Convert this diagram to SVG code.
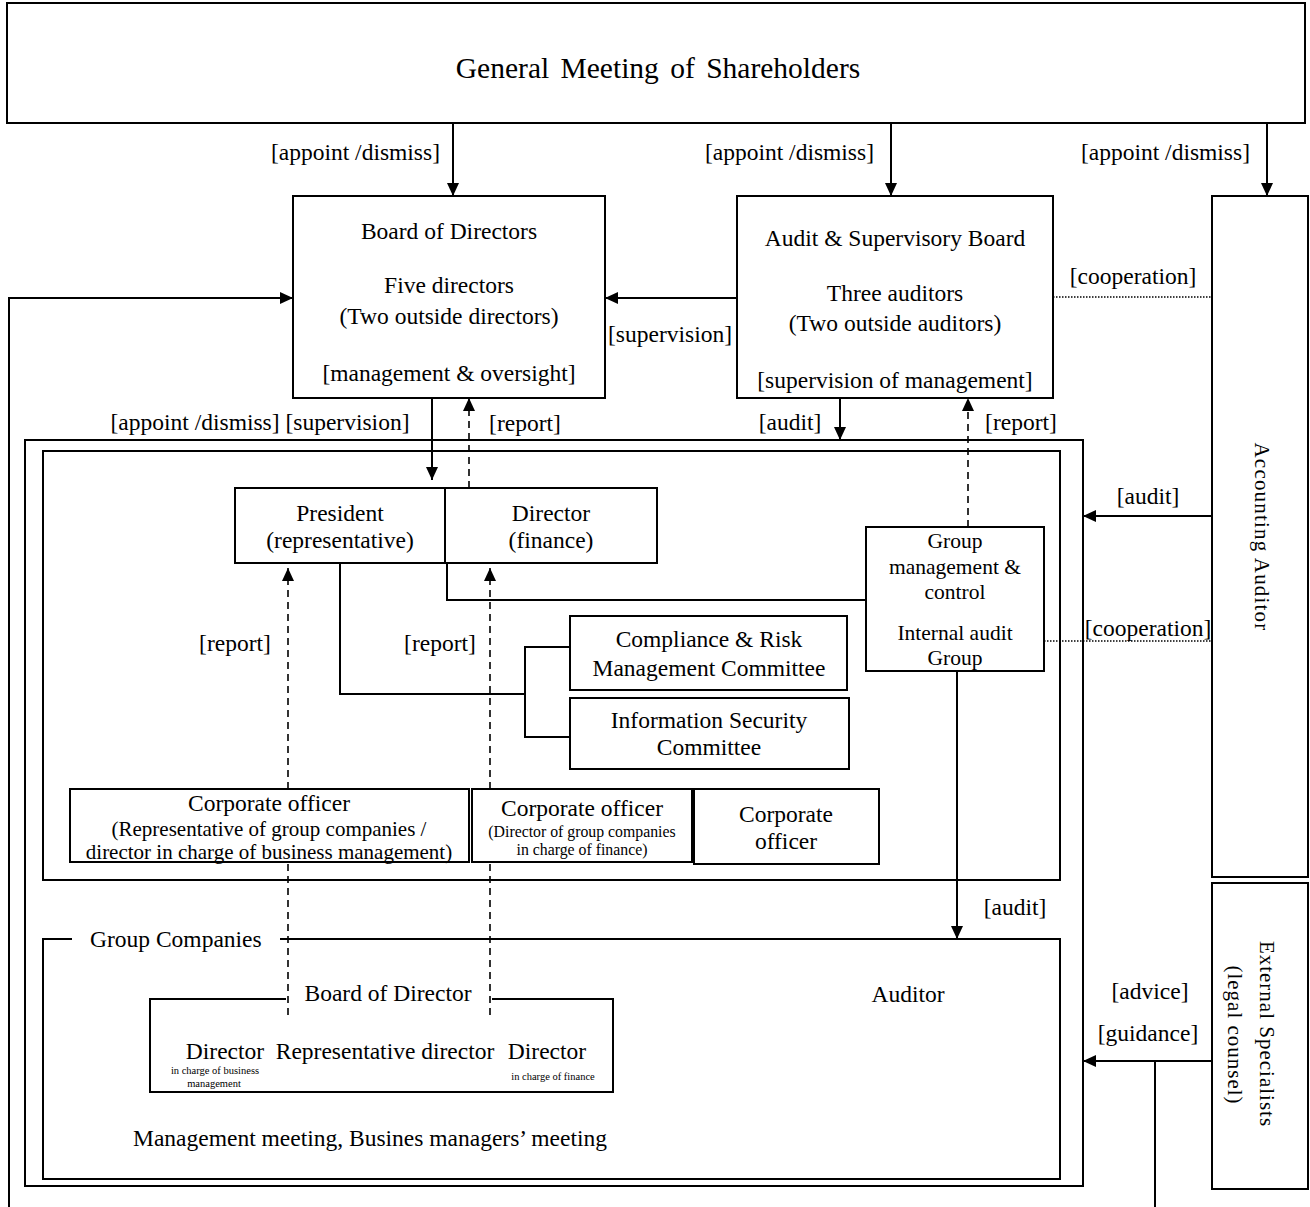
<svg xmlns="http://www.w3.org/2000/svg" width="1310" height="1207" viewBox="0 0 1310 1207">
<style>
text{font-family:"Liberation Serif","Times New Roman",serif;fill:#000;font-size:23.5px}
.c{text-anchor:middle}
.e{text-anchor:end}
.box{fill:#fff;stroke:#000;stroke-width:2}
.ln{fill:none;stroke:#000;stroke-width:2}
.dash{fill:none;stroke:#000;stroke-width:1.6;stroke-dasharray:7,5}
.dot{fill:none;stroke:#000;stroke-width:1.5;stroke-dasharray:1.5,1.5}
.gm{font-size:21.5px}
.s15{font-size:15.8px}
.s10{font-size:10.5px}
</style>
<defs>
<marker id="ah" markerUnits="userSpaceOnUse" markerWidth="14" markerHeight="12" refX="13" refY="6" orient="auto">
<path d="M0,0 L13,6 L0,12 z" fill="#000"/>
</marker>
</defs>
<rect width="1310" height="1207" fill="#fff"/>

<g id="shareholders">
<rect class="box" x="7" y="3" width="1298" height="120"/>
<text class="c" x="658" y="78" style="font-size:29.5px;word-spacing:4px">General Meeting of Shareholders</text>
</g>

<g id="board">
<rect class="box" x="293" y="196" width="312" height="202"/>
<text class="c" x="449" y="239">Board of Directors</text>
<text class="c" x="449" y="293">Five directors</text>
<text class="c" x="449" y="324">(Two outside directors)</text>
<text class="c" x="449" y="381">[management  &amp; oversight]</text>
</g>

<g id="audit-board">
<rect class="box" x="737" y="196" width="316" height="202"/>
<text class="c" x="895" y="246">Audit &amp; Supervisory Board</text>
<text class="c" x="895" y="301">Three auditors</text>
<text class="c" x="895" y="331">(Two outside auditors)</text>
<text class="c" x="895" y="388">[supervision of management]</text>
</g>

<g id="accounting-auditor">
<rect class="box" x="1212" y="196" width="96" height="681"/>
<text class="c" transform="translate(1255,537) rotate(90)" style="font-size:21px;letter-spacing:1.2px">Accounting Auditor</text>
</g>

<g id="external-specialists">
<rect class="box" x="1212" y="883" width="96" height="306"/>
<text class="c" transform="translate(1260,1034) rotate(90)" style="font-size:21px;letter-spacing:1px">External Specialists</text>
<text class="c" transform="translate(1228,1035) rotate(90)" style="font-size:21px;letter-spacing:1px">(legal counsel)</text>
</g>

<g id="company">
<rect class="box" x="25" y="440" width="1058" height="746" fill="none"/>
</g>

<g id="headquarters">
<rect class="box" x="43" y="451" width="1017" height="429"/>
</g>

<g id="president">
<rect class="box" x="235" y="488" width="210" height="75"/>
<text class="c" x="340" y="521">President</text>
<text class="c" x="340" y="548">(representative)</text>
</g>

<g id="director-finance">
<rect class="box" x="445" y="488" width="212" height="75"/>
<text class="c" x="551" y="521">Director</text>
<text class="c" x="551" y="548">(finance)</text>
</g>

<g id="compliance">
<rect class="box" x="570" y="616" width="277" height="74"/>
<text class="c" x="709" y="647">Compliance &amp; Risk</text>
<text class="c" x="709" y="676">Management  Committee</text>
</g>

<g id="infosec">
<rect class="box" x="570" y="698" width="279" height="71"/>
<text class="c" x="709" y="728">Information Security</text>
<text class="c" x="709" y="755">Committee</text>
</g>

<g id="group-management">
<rect class="box" x="866" y="527" width="178" height="144"/>
<text class="c gm" x="955" y="548">Group</text>
<text class="c gm" x="955" y="574">management &amp;</text>
<text class="c gm" x="955" y="599">control</text>
<text class="c gm" x="955" y="640">Internal audit</text>
<text class="c gm" x="955" y="665">Group</text>
</g>

<g id="officer-1">
<rect class="box" x="70" y="789" width="399" height="73"/>
<text class="c" x="269" y="811">Corporate officer</text>
<text class="c" x="269" y="836" style="font-size:21px">(Representative of group companies /</text>
<text class="c" x="269" y="859" style="font-size:21px">director in charge of business management)</text>
</g>

<g id="officer-2">
<rect class="box" x="472" y="789" width="220" height="73"/>
<text class="c" x="582" y="816">Corporate officer</text>
<text class="c s15" x="582" y="837">(Director of group companies</text>
<text class="c s15" x="582" y="855">in charge of finance)</text>
</g>

<g id="officer-3">
<rect class="box" x="694" y="789" width="185" height="75"/>
<text class="c" x="786" y="822">Corporate</text>
<text class="c" x="786" y="849">officer</text>
</g>

<g id="group-companies">
<path class="ln" d="M72,939 H43 V1179 H1060 V939 H280"/>
<text x="90" y="947">Group Companies</text>
<text class="c" x="908" y="1002">Auditor</text>
<text x="133" y="1146">Management meeting, Busines managers’ meeting</text>
</g>

<g id="group-board">
<path class="ln" d="M286,999 H150 V1092 H613 V999 H492"/>
<text class="c" x="388" y="1001">Board of Director</text>
<text class="c" x="225" y="1059">Director</text>
<text class="c" x="385" y="1059">Representative director</text>
<text class="c" x="547" y="1059">Director</text>
<text class="c s10" x="215" y="1074">in charge of business</text>
<text class="c s10" x="214" y="1087">management</text>
<text class="c s10" x="553" y="1080">in charge of finance</text>
</g>

<g id="connectors">
<path class="ln" d="M453,123 V196" marker-end="url(#ah)"/>
<path class="ln" d="M891,123 V196" marker-end="url(#ah)"/>
<path class="ln" d="M1267,123 V196" marker-end="url(#ah)"/>
<path class="ln" d="M9,1207 V298 H293" marker-end="url(#ah)"/>
<path class="ln" d="M737,298 H605" marker-end="url(#ah)"/>
<path class="dot" d="M1053,297 H1212"/>
<path class="ln" d="M432,398 V480" marker-end="url(#ah)"/>
<path class="dash" d="M469,488 V398" marker-end="url(#ah)"/>
<path class="ln" d="M840,398 V440" marker-end="url(#ah)"/>
<path class="dash" d="M968,527 V398" marker-end="url(#ah)"/>
<path class="ln" d="M1212,516 H1083" marker-end="url(#ah)"/>
<path class="dot" d="M1044,641 H1212"/>
<path class="ln" d="M957,671 V939" marker-end="url(#ah)"/>
<path class="ln" d="M340,563 V694 H525"/>
<path class="ln" d="M570,647 H525 V737 H570"/>
<path class="ln" d="M447,563 V600 H866"/>
<path class="dash" d="M288,1015 V862"/>
<path class="dash" d="M288,789 V568" marker-end="url(#ah)"/>
<path class="dash" d="M490,1015 V862"/>
<path class="dash" d="M490,789 V568" marker-end="url(#ah)"/>
<path class="ln" d="M1212,1061 H1083" marker-end="url(#ah)"/>
<path class="ln" d="M1155,1061 V1207"/>
<text class="e" x="440" y="160">[appoint /dismiss]</text>
<text class="e" x="874" y="160">[appoint /dismiss]</text>
<text class="e" x="1250" y="160">[appoint /dismiss]</text>
<text class="c" x="670" y="342">[supervision]</text>
<text class="c" x="1133" y="284">[cooperation]</text>
<text class="c" x="260" y="430">[appoint /dismiss] [supervision]</text>
<text class="c" x="525" y="431">[report]</text>
<text class="c" x="790" y="430">[audit]</text>
<text class="c" x="1021" y="430">[report]</text>
<text class="c" x="1148" y="504">[audit]</text>
<text class="c" x="1148" y="636">[cooperation]</text>
<text class="c" x="235" y="651">[report]</text>
<text class="c" x="440" y="651">[report]</text>
<text class="c" x="1015" y="915">[audit]</text>
<text class="c" x="1150" y="999">[advice]</text>
<text class="c" x="1148" y="1041">[guidance]</text>
</g>
</svg>
